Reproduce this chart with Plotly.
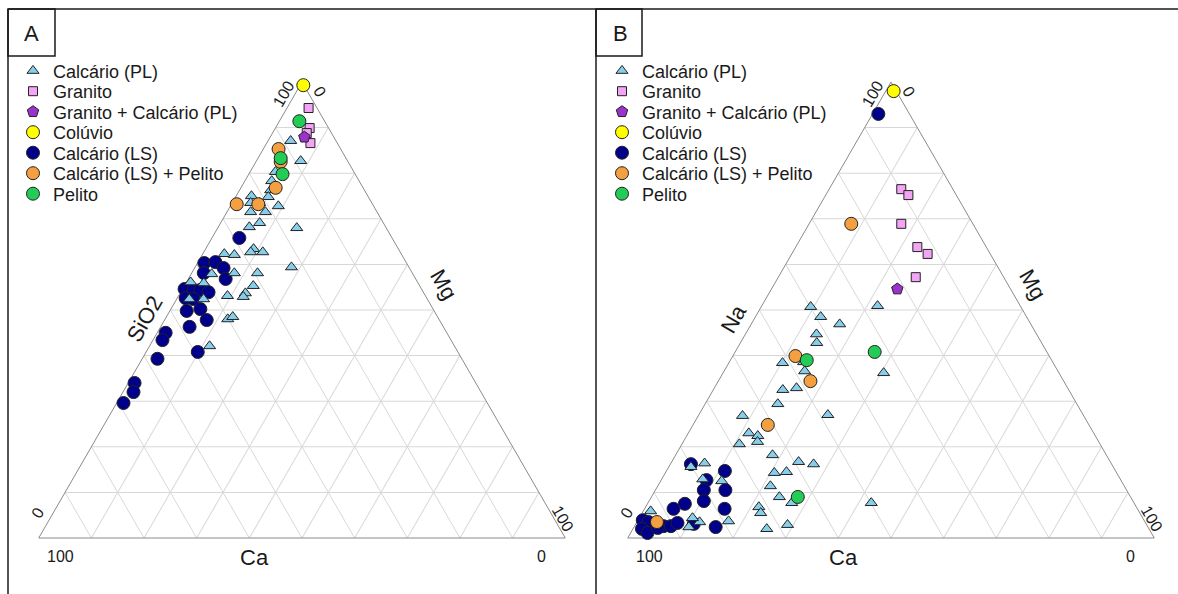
import plotly.graph_objects as go

W, H = 1178, 594

# ---------------- DATA (percent) ----------------
# Panel A: SiO2 (apex), Ca (bottom-left), Mg (bottom-right)
A_PL_SiO2 = [87.1, 82.7, 80.3, 78.3, 76.3, 75.0, 74.8, 73.5, 72.8, 73.5, 71.5, 71.5, 69.1, 68.2, 68.0, 63.4, 62.7, 62.3,
             62.1, 62.7, 59.4, 57.9, 58.1, 58.1, 56.1, 55.9, 55.3, 53.1, 53.7, 52.9, 52.4, 52.4, 48.0, 48.5, 42.1]
A_PL_Ca = [8.6, 8.9, 14.9, 16.6, 17.8, 22.1, 19.0, 21.3, 18.1, 23.0, 24.0, 21.2, 23.5, 25.9, 17.0, 27.5, 26.1, 33.6,
           31.8, 28.4, 22.3, 38.2, 33.8, 29.4, 43.1, 40.7, 31.6, 37.6, 33.9, 34.7, 45.2, 42.5, 40.1, 38.9, 46.5]
A_PL_Mg = [4.3, 8.4, 4.8, 5.1, 5.9, 2.9, 6.2, 5.2, 9.1, 3.5, 4.5, 7.3, 7.4, 5.9, 15.0, 9.1, 11.2, 4.1,
           6.1, 8.9, 18.3, 3.9, 8.1, 12.5, 0.8, 3.4, 13.1, 9.3, 12.4, 12.4, 2.4, 5.1, 11.9, 12.6, 11.4]

A_LS_SiO2 = [65.8, 60.3, 60.5, 59.2, 58.1, 56.8, 54.6, 54.4, 54.4, 53.9, 52.6, 52.4, 49.8, 50.2, 47.8, 46.3, 45.0,
             43.4, 40.8, 39.3, 34.0, 32.0, 29.6]
A_LS_Ca = [29.0, 38.4, 36.2, 35.3, 39.6, 36.1, 45.0, 43.4, 42.1, 40.8, 45.8, 44.4, 47.0, 44.2, 44.2, 48.2, 53.4,
           54.8, 49.4, 57.8, 64.8, 66.0, 69.1]
A_LS_Mg = [5.2, 1.3, 3.3, 5.5, 2.3, 7.1, 0.4, 2.2, 3.5, 5.3, 1.6, 3.2, 3.2, 5.6, 8.0, 5.5, 1.6,
           1.8, 9.8, 2.9, 1.2, 2.0, 1.3]

A_LSP_SiO2 = [85.3, 82.5, 76.8, 73.2, 73.2]
A_LSP_Ca = [11.8, 12.8, 16.6, 25.8, 21.7]
A_LSP_Mg = [2.9, 4.7, 6.6, 1.0, 5.1]

A_PEL_SiO2 = [91.4, 83.3, 79.8]
A_PEL_Ca = [4.8, 12.4, 13.8]
A_PEL_Mg = [3.8, 4.3, 6.4]

A_COL_SiO2 = [99.3]
A_COL_Ca = [0.1]
A_COL_Mg = [0.6]

A_GRA_SiO2 = [94.3, 89.9, 88.8, 86.6]
A_GRA_Ca = [1.6, 3.6, 4.7, 5.1]
A_GRA_Mg = [4.1, 6.5, 6.5, 8.3]

A_GRC_SiO2 = [87.9]
A_GRC_Ca = [5.6]
A_GRC_Mg = [6.5]

# Panel B: Na (apex), Ca (bottom-left), Mg (bottom-right)
B_PL_Na = [50.7, 50.9, 48.5, 46.9, 44.7, 42.8, 38.4, 38.6, 36.6, 36.2, 32.5, 32.9, 29.4, 26.8, 27.0, 23.0, 22.4,
           21.1, 20.6, 18.2, 16.7, 16.2, 14.3, 14.5, 11.4, 9.0, 7.7, 7.7, 6.8, 5.5, 2.0, 2.9, 16.4, 15.6, 12.9,
           12.5, 5.9, 3.7, 3.5, 4.4, 2.4]
B_PL_Ca = [39.9, 27.1, 39.1, 36.3, 41.8, 42.7, 51.4, 47.3, 48.1, 33.3, 54.3, 51.5, 56.8, 64.8, 48.5, 65.5, 64.1,
           64.8, 68.5, 63.4, 59.2, 56.6, 65.0, 62.6, 67.2, 66.7, 65.0, 49.9, 71.7, 72.0, 72.6, 68.2, 77.2, 80.2, 79.3,
           75.9, 92.7, 79.0, 84.6, 85.5, 87.2]
B_PL_Mg = [9.4, 22.0, 12.4, 16.8, 13.5, 14.5, 10.2, 14.1, 15.3, 30.5, 13.2, 15.6, 13.8, 8.4, 24.5, 11.5, 13.5,
           14.1, 10.9, 18.4, 24.1, 27.2, 20.7, 22.9, 21.4, 24.3, 27.3, 42.4, 21.5, 22.5, 25.4, 28.9, 6.4, 4.2, 7.8,
           11.6, 1.4, 17.3, 11.9, 10.1, 10.4]

B_LS_Na = [93.0, 16.2, 14.7, 12.7, 10.5, 10.5, 7.5, 8.1, 6.4, 6.4, 3.9, 3.5, 2.6, 2.6, 3.3, 2.4, 2.0, 1.1, 3.1, 2.2]
B_LS_Ca = [5.9, 79.9, 74.2, 78.7, 80.3, 76.2, 85.4, 81.5, 88.1, 78.4, 95.2, 94.3, 91.9, 90.5, 88.9, 82.1, 96.3,
           95.7, 85.9, 93.2]
B_LS_Mg = [1.1, 3.9, 11.1, 8.6, 9.2, 13.3, 7.1, 10.4, 5.5, 15.2, 0.9, 2.2, 5.5, 6.9, 7.8, 15.5, 1.7, 3.2, 11.0, 4.6]

B_LSP_Na = [68.9, 39.9, 34.4, 24.8, 3.5]
B_LSP_Ca = [23.1, 48.2, 48.1, 61.0, 92.7]
B_LSP_Mg = [8.0, 11.9, 17.5, 14.2, 3.8]

B_PEL_Na = [40.8, 39.0, 9.0]
B_PEL_Ca = [32.7, 46.5, 63.2]
B_PEL_Mg = [26.5, 14.5, 27.8]

B_COL_Na = [98.0]
B_COL_Ca = [0.5]
B_COL_Mg = [1.5]

B_GRA_Na = [76.5, 75.2, 68.9, 63.8, 62.3, 57.2]
B_GRA_Ca = [9.8, 9.1, 13.6, 13.1, 11.9, 16.7]
B_GRA_Mg = [13.7, 15.7, 17.5, 23.1, 25.8, 26.1]

B_GRC_Na = [54.6]
B_GRC_Ca = [21.5]
B_GRC_Mg = [23.9]

CATEGORIES = ["Calcário (PL)", "Granito", "Granito + Calcário (PL)", "Colúvio",
              "Calcário (LS)", "Calcário (LS) + Pelito", "Pelito"]
CORNER_LOW, CORNER_HIGH = "0", "100"

# ---------------- STYLES ----------------
STYLE = {
    "Calcário (PL)": dict(symbol="triangle-up", color="#87CEEB", size=10.5),
    "Granito": dict(symbol="square", color="#F4A4F4", size=9),
    "Granito + Calcário (PL)": dict(symbol="pentagon", color="#9A32CD", size=12),
    "Colúvio": dict(symbol="circle", color="#FFFF00", size=13),
    "Calcário (LS)": dict(symbol="circle", color="#00008B", size=13),
    "Calcário (LS) + Pelito": dict(symbol="circle", color="#F4A040", size=13),
    "Pelito": dict(symbol="circle", color="#22CC55", size=13),
}

panels = {
    "A": {
        "Calcário (LS)": (A_LS_SiO2, A_LS_Ca, A_LS_Mg),
        "Calcário (PL)": (A_PL_SiO2, A_PL_Ca, A_PL_Mg),
        "Granito": (A_GRA_SiO2, A_GRA_Ca, A_GRA_Mg),
        "Granito + Calcário (PL)": (A_GRC_SiO2, A_GRC_Ca, A_GRC_Mg),
        "Colúvio": (A_COL_SiO2, A_COL_Ca, A_COL_Mg),
        "Calcário (LS) + Pelito": (A_LSP_SiO2, A_LSP_Ca, A_LSP_Mg),
        "Pelito": (A_PEL_SiO2, A_PEL_Ca, A_PEL_Mg),
    },
    "B": {
        "Calcário (LS)": (B_LS_Na, B_LS_Ca, B_LS_Mg),
        "Calcário (PL)": (B_PL_Na, B_PL_Ca, B_PL_Mg),
        "Granito": (B_GRA_Na, B_GRA_Ca, B_GRA_Mg),
        "Granito + Calcário (PL)": (B_GRC_Na, B_GRC_Ca, B_GRC_Mg),
        "Colúvio": (B_COL_Na, B_COL_Ca, B_COL_Mg),
        "Calcário (LS) + Pelito": (B_LSP_Na, B_LSP_Ca, B_LSP_Mg),
        "Pelito": (B_PEL_Na, B_PEL_Ca, B_PEL_Mg),
    },
}

FONT = "Liberation Sans, Arial, sans-serif"
TXT = "#1a1a1a"


def px(x):
    return x / W


def py(y):
    return 1 - y / H


fig = go.Figure()
layout_legends = {}
PANEL_DX = {"A": 0, "B": 589}
TERN = {"A": "ternary", "B": "ternary2"}
leg_idx = 1
for pname, series in panels.items():
    dx = PANEL_DX[pname]
    for cat, (a, b, c) in series.items():
        st = STYLE[cat]
        item = CATEGORIES.index(cat)
        lname = "legend" if leg_idx == 1 else f"legend{leg_idx}"
        leg_idx += 1
        fig.add_trace(go.Scatterternary(
            a=a, b=b, c=c, mode="markers", name=cat, showlegend=True,
            subplot=TERN[pname], legend=lname, cliponaxis=False,
            marker=dict(symbol=st["symbol"], color=st["color"], size=st["size"],
                        line=dict(color="#222222", width=1)),
            hoverinfo="name+a+b+c",
        ))
        layout_legends[lname] = dict(
            x=px(13 + dx), y=py(71 + 20.5 * item), xanchor="left", yanchor="middle",
            bgcolor="rgba(0,0,0,0)", borderwidth=0, itemwidth=30,
            font=dict(family=FONT, size=18, color=TXT),
        )


def tern_layout(x0, x1):
    ax = dict(tickmode="linear", tick0=0, dtick=10, showticklabels=False, ticks="",
              linecolor="#8a8a8a", linewidth=1, gridcolor="#d8d8d8", gridwidth=1,
              title=dict(text=""), min=0, layer="below traces")
    return dict(domain=dict(x=[px(x0), px(x1)], y=[py(538), py(82)]), sum=100,
                bgcolor="white", aaxis=ax, baxis=ax, caxis=ax)


annotations = []


def ann(text, x, y, size, angle=0):
    annotations.append(dict(text=text, x=px(x), y=py(y), xref="paper", yref="paper",
                            showarrow=False, textangle=angle, xanchor="center", yanchor="middle",
                            font=dict(family=FONT, size=size, color=TXT)))


for pname, apex_title in (("A", "SiO2"), ("B", "Na")):
    dx = PANEL_DX[pname]
    ann(pname, 31 + dx, 33, 22)
    ann(apex_title, 144 + dx, 319, 22, -60)
    ann("Mg", 444 + dx, 284, 22, 60)
    ann("Ca", 254 + dx, 557, 22)
    ann(CORNER_HIGH, 60 + dx, 556, 16)
    ann(CORNER_LOW, 541 + dx, 556, 16)
    ann(CORNER_HIGH, 283 + dx, 94, 16, -60)
    ann(CORNER_LOW, 320 + dx, 91, 16, 60)
    ann(CORNER_LOW, 37 + dx, 513, 16, -60)
    ann(CORNER_HIGH, 563 + dx, 518, 16, 60)

line = dict(color="#1a1a1a", width=1.5)
shapes = [
    dict(type="line", xref="paper", yref="paper", x0=px(8), x1=px(1178), y0=py(9), y1=py(9), line=line),
    dict(type="line", xref="paper", yref="paper", x0=px(8), x1=px(8), y0=py(9), y1=py(600), line=line),
    dict(type="line", xref="paper", yref="paper", x0=px(596), x1=px(596), y0=py(9), y1=py(600), line=line),
    dict(type="rect", xref="paper", yref="paper", x0=px(8), x1=px(55), y0=py(56), y1=py(9), line=line),
    dict(type="rect", xref="paper", yref="paper", x0=px(596), x1=px(642), y0=py(56), y1=py(9), line=line),
]

fig.update_layout(
    width=W, height=H, margin=dict(l=0, r=0, t=0, b=0),
    paper_bgcolor="white", plot_bgcolor="white", showlegend=True,
    ternary=tern_layout(38, 566), ternary2=tern_layout(627, 1155),
    annotations=annotations, shapes=shapes,
    font=dict(family=FONT, color=TXT),
    **layout_legends,
)

fig.write_html("out.html", config={"displayModeBar": False},
               post_script="document.body.style.margin='0';")
